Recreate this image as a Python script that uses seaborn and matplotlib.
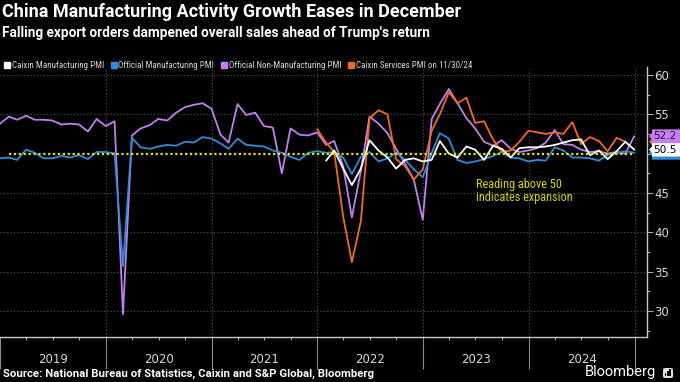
import matplotlib
matplotlib.use("Agg")
import matplotlib.pyplot as plt
import matplotlib.transforms as mtransforms
from matplotlib.lines import Line2D
from matplotlib.ticker import MultipleLocator
from matplotlib.patches import FancyBboxPatch, Rectangle, Polygon
from matplotlib import font_manager
import seaborn as sns
import pandas as pd

# ---------------- data ----------------
months = pd.date_range("2018-12-31", periods=73, freq="ME")

official_mfg = [49.4,
    49.5, 49.2, 50.5, 50.1, 49.4, 49.4, 49.7, 49.5, 49.8, 49.3, 50.2, 50.2,
    50.0, 35.7, 52.0, 50.8, 50.6, 50.9, 51.1, 51.0, 51.5, 51.4, 52.1, 51.9,
    51.3, 50.6, 51.9, 51.1, 51.0, 50.9, 50.4, 50.1, 49.6, 49.2, 50.1, 50.3,
    50.1, 50.2, 49.5, 47.4, 49.6, 50.2, 49.0, 49.4, 50.1, 49.2, 48.0, 47.0,
    50.1, 52.6, 51.9, 49.2, 48.8, 49.0, 49.3, 49.7, 50.2, 49.5, 49.4, 49.0,
    49.2, 49.1, 50.8, 50.4, 49.5, 49.5, 49.4, 49.1, 49.8, 50.1, 50.3, 50.1]

official_nonmfg = [53.8,
    54.7, 54.3, 54.8, 54.3, 54.3, 54.2, 53.7, 53.8, 53.7, 52.8, 54.4, 53.5,
    54.1, 29.6, 52.3, 53.2, 53.6, 54.4, 54.2, 55.2, 55.9, 56.2, 56.4, 55.7,
    52.4, 51.4, 56.3, 54.9, 55.2, 53.5, 53.3, 47.5, 53.2, 52.4, 52.3, 52.7,
    51.1, 51.6, 48.4, 41.9, 47.8, 54.7, 53.8, 52.6, 50.6, 48.7, 46.7, 41.6,
    54.4, 56.3, 58.2, 56.4, 54.5, 53.2, 51.5, 51.0, 51.7, 50.6, 50.2, 50.4,
    50.7, 51.4, 53.0, 51.2, 51.1, 50.5, 50.2, 50.3, 50.0, 50.2, 50.0, 52.2]

# Caixin Manufacturing PMI, Jan 2022 - Dec 2024
caixin_mfg = [
    49.1, 50.4, 48.1, 46.0, 48.1, 51.7, 50.4, 49.5, 48.1, 49.2, 49.4, 49.0,
    49.2, 51.6, 50.0, 49.5, 50.9, 50.5, 49.2, 51.0, 50.6, 49.5, 50.7, 50.8,
    50.8, 50.9, 51.1, 51.4, 51.7, 51.8, 49.8, 50.4, 49.3, 50.3, 51.5, 50.5]
caixin_mfg_start = "2022-01-31"

# Caixin Services PMI, Dec 2021 - Nov 2024
caixin_svc = [53.1,
    51.4, 50.2, 42.0, 36.2, 41.4, 54.5, 55.5, 55.0, 49.3, 48.4, 46.7, 48.0,
    52.9, 55.0, 57.8, 56.4, 57.1, 53.9, 54.1, 51.8, 50.2, 50.4, 51.5, 52.9,
    52.7, 52.5, 52.7, 52.5, 54.0, 51.2, 52.1, 51.6, 50.3, 52.0, 51.5]
caixin_svc_start = "2021-12-31"

series_names = ["Caixin Manufacturing PMI", "Official Manufacturing PMI",
                "Official Non-Manufacturing PMI", "Caixin Services PMI on 11/30/24"]
series_colors = ["#ffffff", "#2e8ddb", "#c57ef0", "#f36a1f"]
threshold = 50
year_labels = ["2019", "2020", "2021", "2022", "2023", "2024"]
y_ticks = [30, 35, 40, 45, 50, 55, 60]
y_tick_labels = ["30", "35", "40", "45", "", "55", "60"]  # 50 is hidden behind the end tags

# ---------------- fonts ----------------
def pick(*names):
    for n in names:
        try:
            font_manager.findfont(font_manager.FontProperties(family=n), fallback_to_default=False)
            return n
        except Exception:
            continue
    return "DejaVu Sans"

MAIN = pick("Roboto", "DejaVu Sans")
NARROW = pick("Liberation Sans Narrow", "Roboto Condensed", "Roboto")

sns.set_theme(style="dark")
plt.rcParams["font.family"] = [MAIN, "DejaVu Sans"]

# ---------------- frame ----------------
df_off = pd.DataFrame({"date": months, "mfg": official_mfg, "nonmfg": official_nonmfg})
df_cm = pd.DataFrame({"date": pd.date_range(caixin_mfg_start, periods=len(caixin_mfg), freq="ME"),
                      "val": caixin_mfg})
df_cs = pd.DataFrame({"date": pd.date_range(caixin_svc_start, periods=len(caixin_svc), freq="ME"),
                      "val": caixin_svc})

fig = plt.figure(figsize=(6.8, 3.82), dpi=100, facecolor="black")
ax = fig.add_axes([0.0, 45 / 382, 647 / 680, 270 / 382])
ax.set_facecolor("black")

for yv in y_ticks:
    if yv == threshold:
        continue
    ax.axhline(yv, color="#5a5a5a", ls=(0, (1, 2)), lw=0.8, zorder=1)
for yr in range(2020, 2026):
    ax.axvline(pd.Timestamp(f"{yr}-01-01"), color="#5a5a5a", ls=(0, (1, 2)), lw=0.8, zorder=1)

sns.lineplot(data=df_off, x="date", y="nonmfg", ax=ax, color=series_colors[2], lw=1.3, legend=False, zorder=3)
sns.lineplot(data=df_off, x="date", y="mfg", ax=ax, color=series_colors[1], lw=1.3, legend=False, zorder=3)
sns.lineplot(data=df_cs, x="date", y="val", ax=ax, color=series_colors[3], lw=1.3, legend=False, zorder=4)
sns.lineplot(data=df_cm, x="date", y="val", ax=ax, color=series_colors[0], lw=1.3, legend=False, zorder=4)

ax.hlines(threshold, months[1], months[-1], colors="#e6e600", linestyles=(0, (1, 1.2)), lw=1.6, zorder=6)

ax.text(pd.Timestamp("2023-07-03"), 46.95, "Reading above 50\nindicates expansion",
        color="#d6d600", fontsize=8.8, family=[NARROW, "DejaVu Sans"], va="top", ha="left",
        linespacing=1.0, zorder=7)

ax.set_xlim(pd.Timestamp("2018-12-31"), pd.Timestamp("2025-02-13"))
ax.set_ylim(26.7, 61.0)
ax.set_xlabel("")
ax.set_ylabel("")

ax.yaxis.tick_right()
ax.set_yticks(y_ticks)
ax.set_yticklabels(y_tick_labels)
ax.yaxis.set_minor_locator(MultipleLocator(2.5))
ax.tick_params(axis="y", which="major", direction="out", length=4, width=0.8, color="#aaaaaa",
               labelsize=8.5, labelcolor="#d8d8d8", pad=1, left=False, right=True)
ax.tick_params(axis="y", which="minor", direction="out", length=2.5, width=0.8, color="#aaaaaa",
               left=False, right=True)
for lab in ax.get_yticklabels():
    lab.set_family(["DejaVu Sans"])

ax.set_xticks([pd.Timestamp(f"{yr}-01-01") for yr in range(2019, 2026)])
ax.set_xticklabels([])
ax.set_xticks([pd.Timestamp(f"{yr}-{m:02d}-01") for yr in range(2019, 2025) for m in (4, 7, 10)], minor=True)
ax.tick_params(axis="x", which="major", direction="out", length=23, width=0.8, color="#8a8a8a", bottom=True)
ax.tick_params(axis="x", which="minor", direction="out", length=2.5, width=0.8, color="#aaaaaa", bottom=True)
for i, lab in enumerate(year_labels):
    ax.text(pd.Timestamp(f"{2019 + i}-07-02"), -0.085, lab, transform=ax.get_xaxis_transform(),
            ha="center", va="center", fontsize=8.5, color="#d8d8d8", family=["DejaVu Sans"])

for s in ["top", "left"]:
    ax.spines[s].set_visible(False)
for s in ["bottom", "right"]:
    ax.spines[s].set_color("#c8c8c8")
    ax.spines[s].set_linewidth(1.0)
ax.grid(False)

# end-value tags (blended: x in axes fraction, y in data)
blend = mtransforms.blended_transform_factory(ax.transAxes, ax.transData)
tag_x0 = 1.0 + 2 / 647
tag_w = 34 / 647
tag_h = 1.75
nose = 3 / 647

def tag_shape(val, fc, z):
    y0 = val - tag_h / 2
    box = FancyBboxPatch((tag_x0 + nose, y0), tag_w, tag_h, boxstyle="round,pad=0,rounding_size=0.004",
                         transform=blend, fc=fc, ec="none", zorder=z, clip_on=False)
    tri = Polygon([[tag_x0, val], [tag_x0 + nose + 0.001, val + tag_h * 0.3],
                   [tag_x0 + nose + 0.001, val - tag_h * 0.3]], closed=True,
                  transform=blend, fc=fc, ec="none", zorder=z, clip_on=False)
    ax.add_patch(box)
    ax.add_patch(tri)

tag_shape(official_mfg[-1], series_colors[1], 10)
tag_shape(caixin_svc[-1], series_colors[3], 11)
tag_shape(caixin_mfg[-1], series_colors[0], 12)
tag_shape(official_nonmfg[-1], series_colors[2], 13)
for val, tc in [(caixin_mfg[-1], "black"), (official_nonmfg[-1], "#2a0a44")]:
    ax.text(tag_x0 + nose + 1.5 / 647, val, f"{val:.1f}", transform=blend,
            ha="left", va="center", fontsize=7.6, color=tc, family=["DejaVu Sans"],
            zorder=14, clip_on=False)

# ---------------- texts ----------------
fig.text(0.003, 1 - 3 / 382, "China Manufacturing Activity Growth Eases in December",
         fontsize=13, fontweight="bold", color="white", va="top", ha="left")
fig.text(0.003, 1 - 26 / 382, "Falling export orders dampened overall sales ahead of Trump's return",
         fontsize=9.8, fontweight="bold", color="white", va="top", ha="left")

handles = [Line2D([], [], marker="s", ls="none", color=c, markersize=5) for c in series_colors]
fig.legend(handles, series_names, loc="center left", bbox_to_anchor=(0.004, 1 - 66 / 382),
           ncol=4, frameon=False, handlelength=0.6, handletextpad=0.2, columnspacing=0.8,
           borderaxespad=0, borderpad=0.2,
           prop={"family": [NARROW, "DejaVu Sans"], "size": 6.5}, labelcolor="#d8d8d8")

fig.text(0.004, 1 - 374 / 382, "Source: National Bureau of Statistics, Caixin and S&P Global, Bloomberg",
         fontsize=8.2, fontweight="bold", color="white", va="center", ha="left")
fig.text(656 / 680, 1 - 372 / 382, "Bloomberg", fontsize=10.5, color="white", va="center", ha="right")

logo = FancyBboxPatch((663 / 680, 1 - 378 / 382), 10 / 680, 10 / 382,
                      boxstyle="round,pad=0,rounding_size=0.004", transform=fig.transFigure,
                      fc="#e0e0e0", ec="none")
fig.patches.append(logo)
for i, h in enumerate([3, 5, 7]):
    fig.patches.append(Rectangle(((665 + 2.2 * i) / 680, 1 - 376 / 382), 1.3 / 680, h / 382,
                                 transform=fig.transFigure, fc="black", ec="none"))

fig.savefig("out.png", dpi=100, facecolor="black")
